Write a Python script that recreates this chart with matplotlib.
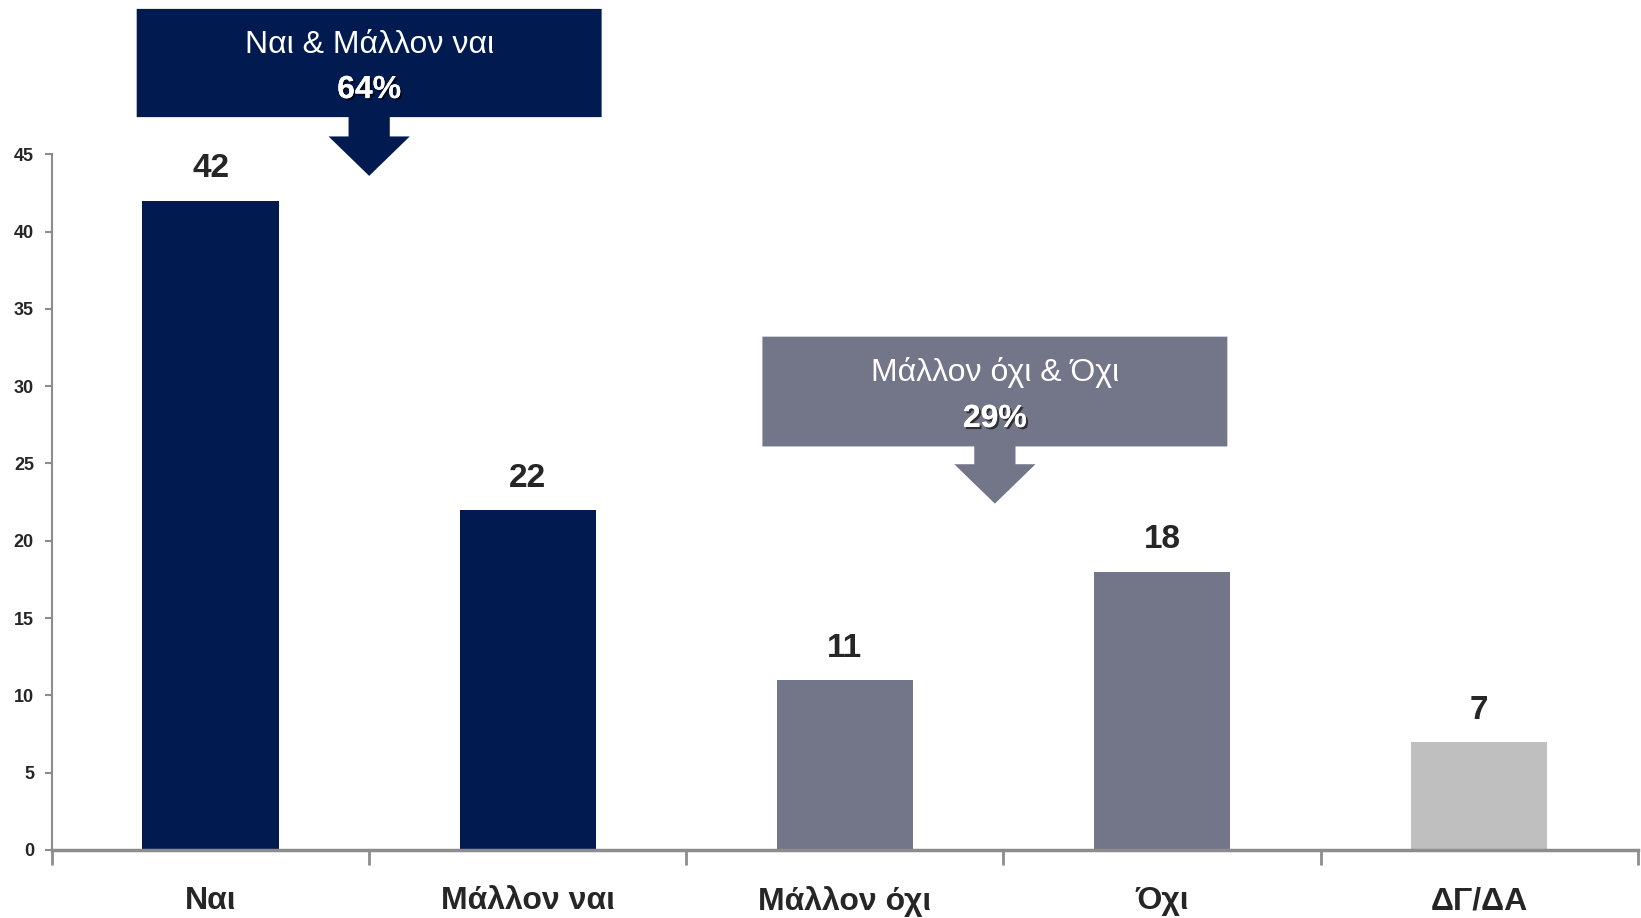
import matplotlib
matplotlib.use("Agg")
import matplotlib.pyplot as plt
import matplotlib.patheffects as pe
from matplotlib.patches import Polygon
import numpy as np

plt.rcParams['font.family'] = ['Liberation Sans', 'DejaVu Sans']
plt.rcParams['font.stretch'] = 'condensed'

# Data
categories = ['Ναι', 'Μάλλον ναι', 'Μάλλον όχι', 'Όχι', 'ΔΓ/ΔΑ']
values = [42, 22, 11, 18, 7]
bar_colors = ['#011A50', '#011A50', '#737589', '#737589', '#BFBFBF']
groups = [('Ναι & Μάλλον ναι', [0, 1], '#011A50'),
          ('Μάλλον όχι & Όχι', [2, 3], '#737589')]

fig = plt.figure(figsize=(16.41, 9.18), dpi=100)
ax = fig.add_axes([0.0317, 0.0741, 0.9663, 0.7579])

x = np.arange(len(categories))
ax.bar(x, values, width=0.43, color=bar_colors, zorder=2)

for xi, v in zip(x, values):
    ax.text(xi, v + 1.05, str(v), ha='center', va='bottom', fontsize=24,
            fontweight='bold', color='#262626')

ax.set_xlim(-0.5, len(categories) - 0.5)
ax.set_ylim(0, 45)
ax.set_yticks(np.arange(0, 46, 5))
ax.set_xticks(x)
ax.set_xticklabels(categories, fontsize=23, fontweight='bold', color='#262626')
ax.set_xticks(np.arange(-0.5, len(categories), 1), minor=True)
ax.tick_params(axis='x', which='major', length=0, pad=26)
ax.tick_params(axis='x', which='minor', length=11, width=2, color='#8C8C8C')
ax.tick_params(axis='y', length=5, width=1.5, color='#8C8C8C', labelsize=13, pad=8)
for lab in ax.get_yticklabels():
    lab.set_fontweight('bold')
    lab.set_color('#262626')

for s in ['top', 'right']:
    ax.spines[s].set_visible(False)
for s in ['left', 'bottom']:
    ax.spines[s].set_color('#8C8C8C')
ax.spines['bottom'].set_linewidth(2.5)
ax.spines['left'].set_linewidth(1.5)

# Callout boxes with arrows
box_specs = [(47.4, 54.4, 46.15, 43.6), (26.1, 33.2, 24.95, 22.4)]
shadow = [pe.withSimplePatchShadow(offset=(1.5, -1.5), shadow_rgbFace='black', alpha=0.6), pe.Normal()]
for (label, idx, col), (yb, yt, ys, ytip) in zip(groups, box_specs):
    cx = np.mean(idx) - (0.0 if idx[0] == 0 else 0.027)
    hw = 0.733
    total = sum(values[i] for i in idx)
    shape = Polygon([(cx - hw, yb), (cx - hw, yt), (cx + hw, yt), (cx + hw, yb),
                     (cx + 0.065, yb), (cx + 0.065, ys), (cx + 0.128, ys),
                     (cx, ytip), (cx - 0.128, ys), (cx - 0.065, ys), (cx - 0.065, yb)],
                    closed=True, facecolor=col, edgecolor='none', clip_on=False, zorder=3)
    ax.add_patch(shape)
    ax.text(cx, yt - (yt - yb) * 0.33, label, ha='center', va='center', fontsize=23,
            color='white', zorder=4, clip_on=False)
    ax.text(cx, yt - (yt - yb) * 0.75, f'{total}%', ha='center', va='center', fontsize=23,
            fontweight='bold', color='white', zorder=4, clip_on=False, path_effects=shadow)

fig.savefig('out.png', dpi=100)
